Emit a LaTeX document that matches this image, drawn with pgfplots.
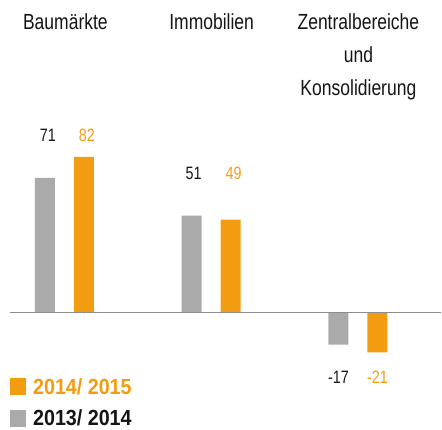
\documentclass[border=0pt]{standalone}
\usepackage{fontspec}
\setmainfont{Liberation Sans}[FakeStretch=0.8]
\newfontfamily\legfont{Liberation Sans}[FakeStretch=0.9]
\usepackage{pgfplots}
\pgfplotsset{compat=1.18}
\definecolor{og}{HTML}{F39C12}
\definecolor{gr}{HTML}{AAAAAA}
\definecolor{zl}{HTML}{8C8C8C}
\definecolor{txt}{HTML}{151515}
\begin{document}
\begin{tikzpicture}
\begin{axis}[
 scale only axis, width=442bp, height=426bp,
 xmin=-0.43878, xmax=2.56803, ymin=-59.47, ymax=164.74,
 axis lines=none, ticks=none, clip=false,
 legend cell align=left,
 reverse legend,
 legend style={at={(rel axis cs:0.0226,0.115)}, anchor=north west, draw=none, fill=none, inner sep=0pt, row sep=10bp, font=\legfont\fontsize{22}{24}\selectfont\bfseries, /tikz/every odd column/.append style={column sep=5bp}},
]
\addplot[ybar, bar width=20bp, bar shift=-19.5bp, fill=gr, draw=none,
  legend image code/.code={\fill[gr] (0bp,-8bp) rectangle (16bp,9bp);}]
  coordinates {(0,71) (1,51) (2,-17)};
\addplot[ybar, bar width=20bp, bar shift=19.5bp, fill=og, draw=none,
  legend image code/.code={\fill[og] (0bp,-8bp) rectangle (16bp,9bp);}]
  coordinates {(0,82) (1,49) (2,-21)};
\legend{\textcolor{txt}{2013/ 2014}, \textcolor{og}{2014/ 2015}}
\draw[zl, line width=1.5bp] (axis cs:-0.3707,0) -- (axis cs:2.568,0);
\path (rel axis cs:0,0) rectangle (rel axis cs:1,1);
\tikzset{vl/.style={font=\fontsize{18}{20}\selectfont}, cl/.style={font=\fontsize{22}{24}\selectfont, text=txt, anchor=base}}
\node[vl, text=txt] at (axis cs:-0.1122,93.16) {71};
\node[vl, text=og] at (axis cs:0.153,93.16) {82};
\node[vl, text=txt] at (axis cs:0.881,73.16) {51};
\node[vl, text=og] at (axis cs:1.153,73.16) {49};
\node[vl, text=txt] at (axis cs:1.867,-34.21) {-17};
\node[vl, text=og] at (axis cs:2.133,-34.21) {-21};
\node[cl] at (axis cs:0.0068,148.95) {Baumärkte};
\node[cl] at (axis cs:1.0034,148.95) {Immobilien};
\node[cl] at (axis cs:2.0034,148.95) {Zentralbereiche};
\node[cl] at (axis cs:2.0034,131.58) {und};
\node[cl] at (axis cs:2.0034,114.21) {Konsolidierung};
\end{axis}
\end{tikzpicture}
\end{document}
